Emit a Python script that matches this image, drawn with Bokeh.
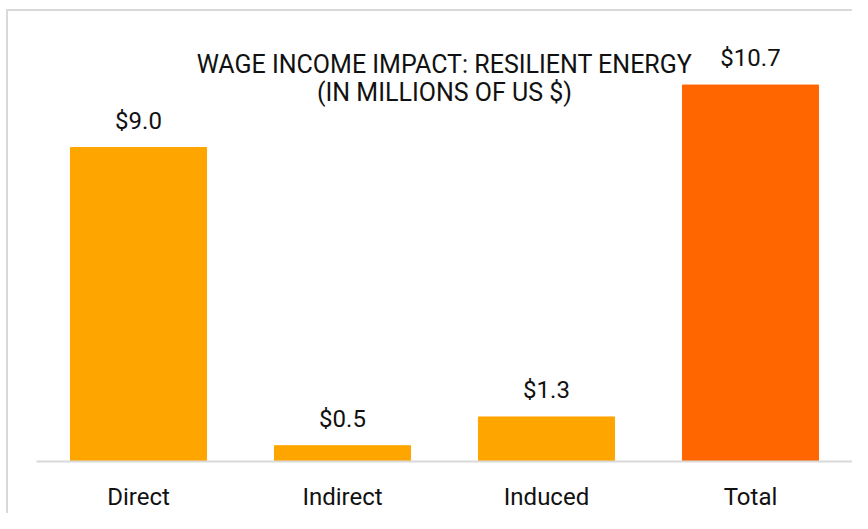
from bokeh.plotting import figure
from bokeh.models import ColumnDataSource, FactorRange, Range1d, LabelSet, Label
from bokeh.core.properties import value
from bokeh.embed import file_html
from bokeh.resources import INLINE

categories = ["Direct", "Indirect", "Induced", "Total"]
values = [8.95, 0.45, 1.27, 10.73]
value_labels = ["$9.0", "$0.5", "$1.3", "$10.7"]
bar_colors = ["#FFA500", "#FFA500", "#FFA500", "#FF6600"]
title_lines = ["WAGE INCOME IMPACT: RESILIENT ENERGY", "(IN MILLIONS OF US $)"]

FONT = "Roboto"
TEXT_COLOR = "#111111"
FS = "24px"
TITLE_FS = "25px"
GREY = "#d9d9d9"

source = ColumnDataSource(dict(cat=categories, val=values, lab=value_labels, color=bar_colors))

p = figure(
    x_range=FactorRange(*categories, range_padding=0),
    y_range=Range1d(0, 12),
    width=852, height=513,
    output_backend="svg", toolbar_location=None,
    min_border_left=36, min_border_right=0,
    min_border_top=40, min_border_bottom=46,
)
p.border_fill_color = None
p.background_fill_color = None
# light grey chart-box border on the top and left edges
p.styles = {
    "background": (f"linear-gradient({GREY},{GREY}) 6px 9px / 2px 100% no-repeat, "
                   f"linear-gradient({GREY},{GREY}) 6px 9px / 100% 2px no-repeat, #ffffff"),
}

p.vbar(x="cat", top="val", width=0.667, color="color", source=source)

labels = LabelSet(x="cat", y="val", text="lab", source=source, y_offset=19,
                  text_align="center", text_baseline="alphabetic",
                  text_font=value(FONT), text_font_size=value(FS), text_color=TEXT_COLOR)
p.add_layout(labels)

for txt, yv in zip(title_lines, [11.32, 10.53]):
    p.add_layout(Label(x=2.0, y=yv, text=txt, text_align="center", text_baseline="middle",
                       text_font=FONT, text_font_size=TITLE_FS, text_color=TEXT_COLOR))

p.yaxis.visible = False
p.xgrid.grid_line_color = None
p.ygrid.grid_line_color = None
p.outline_line_color = None
p.xaxis.axis_line_color = GREY
p.xaxis.axis_line_width = 2
p.xaxis.major_tick_line_color = None
p.xaxis.minor_tick_line_color = None
p.xaxis.major_tick_out = 0
p.xaxis.major_tick_in = 0
p.xaxis.minor_tick_out = 0
p.xaxis.minor_tick_in = 0
p.xaxis.major_label_standoff = 21
p.xaxis.major_label_text_font = FONT
p.xaxis.major_label_text_font_size = FS
p.xaxis.major_label_text_color = TEXT_COLOR
p.xaxis.major_label_text_font_style = "normal"

open("out.html", "w").write(file_html(p, INLINE))
